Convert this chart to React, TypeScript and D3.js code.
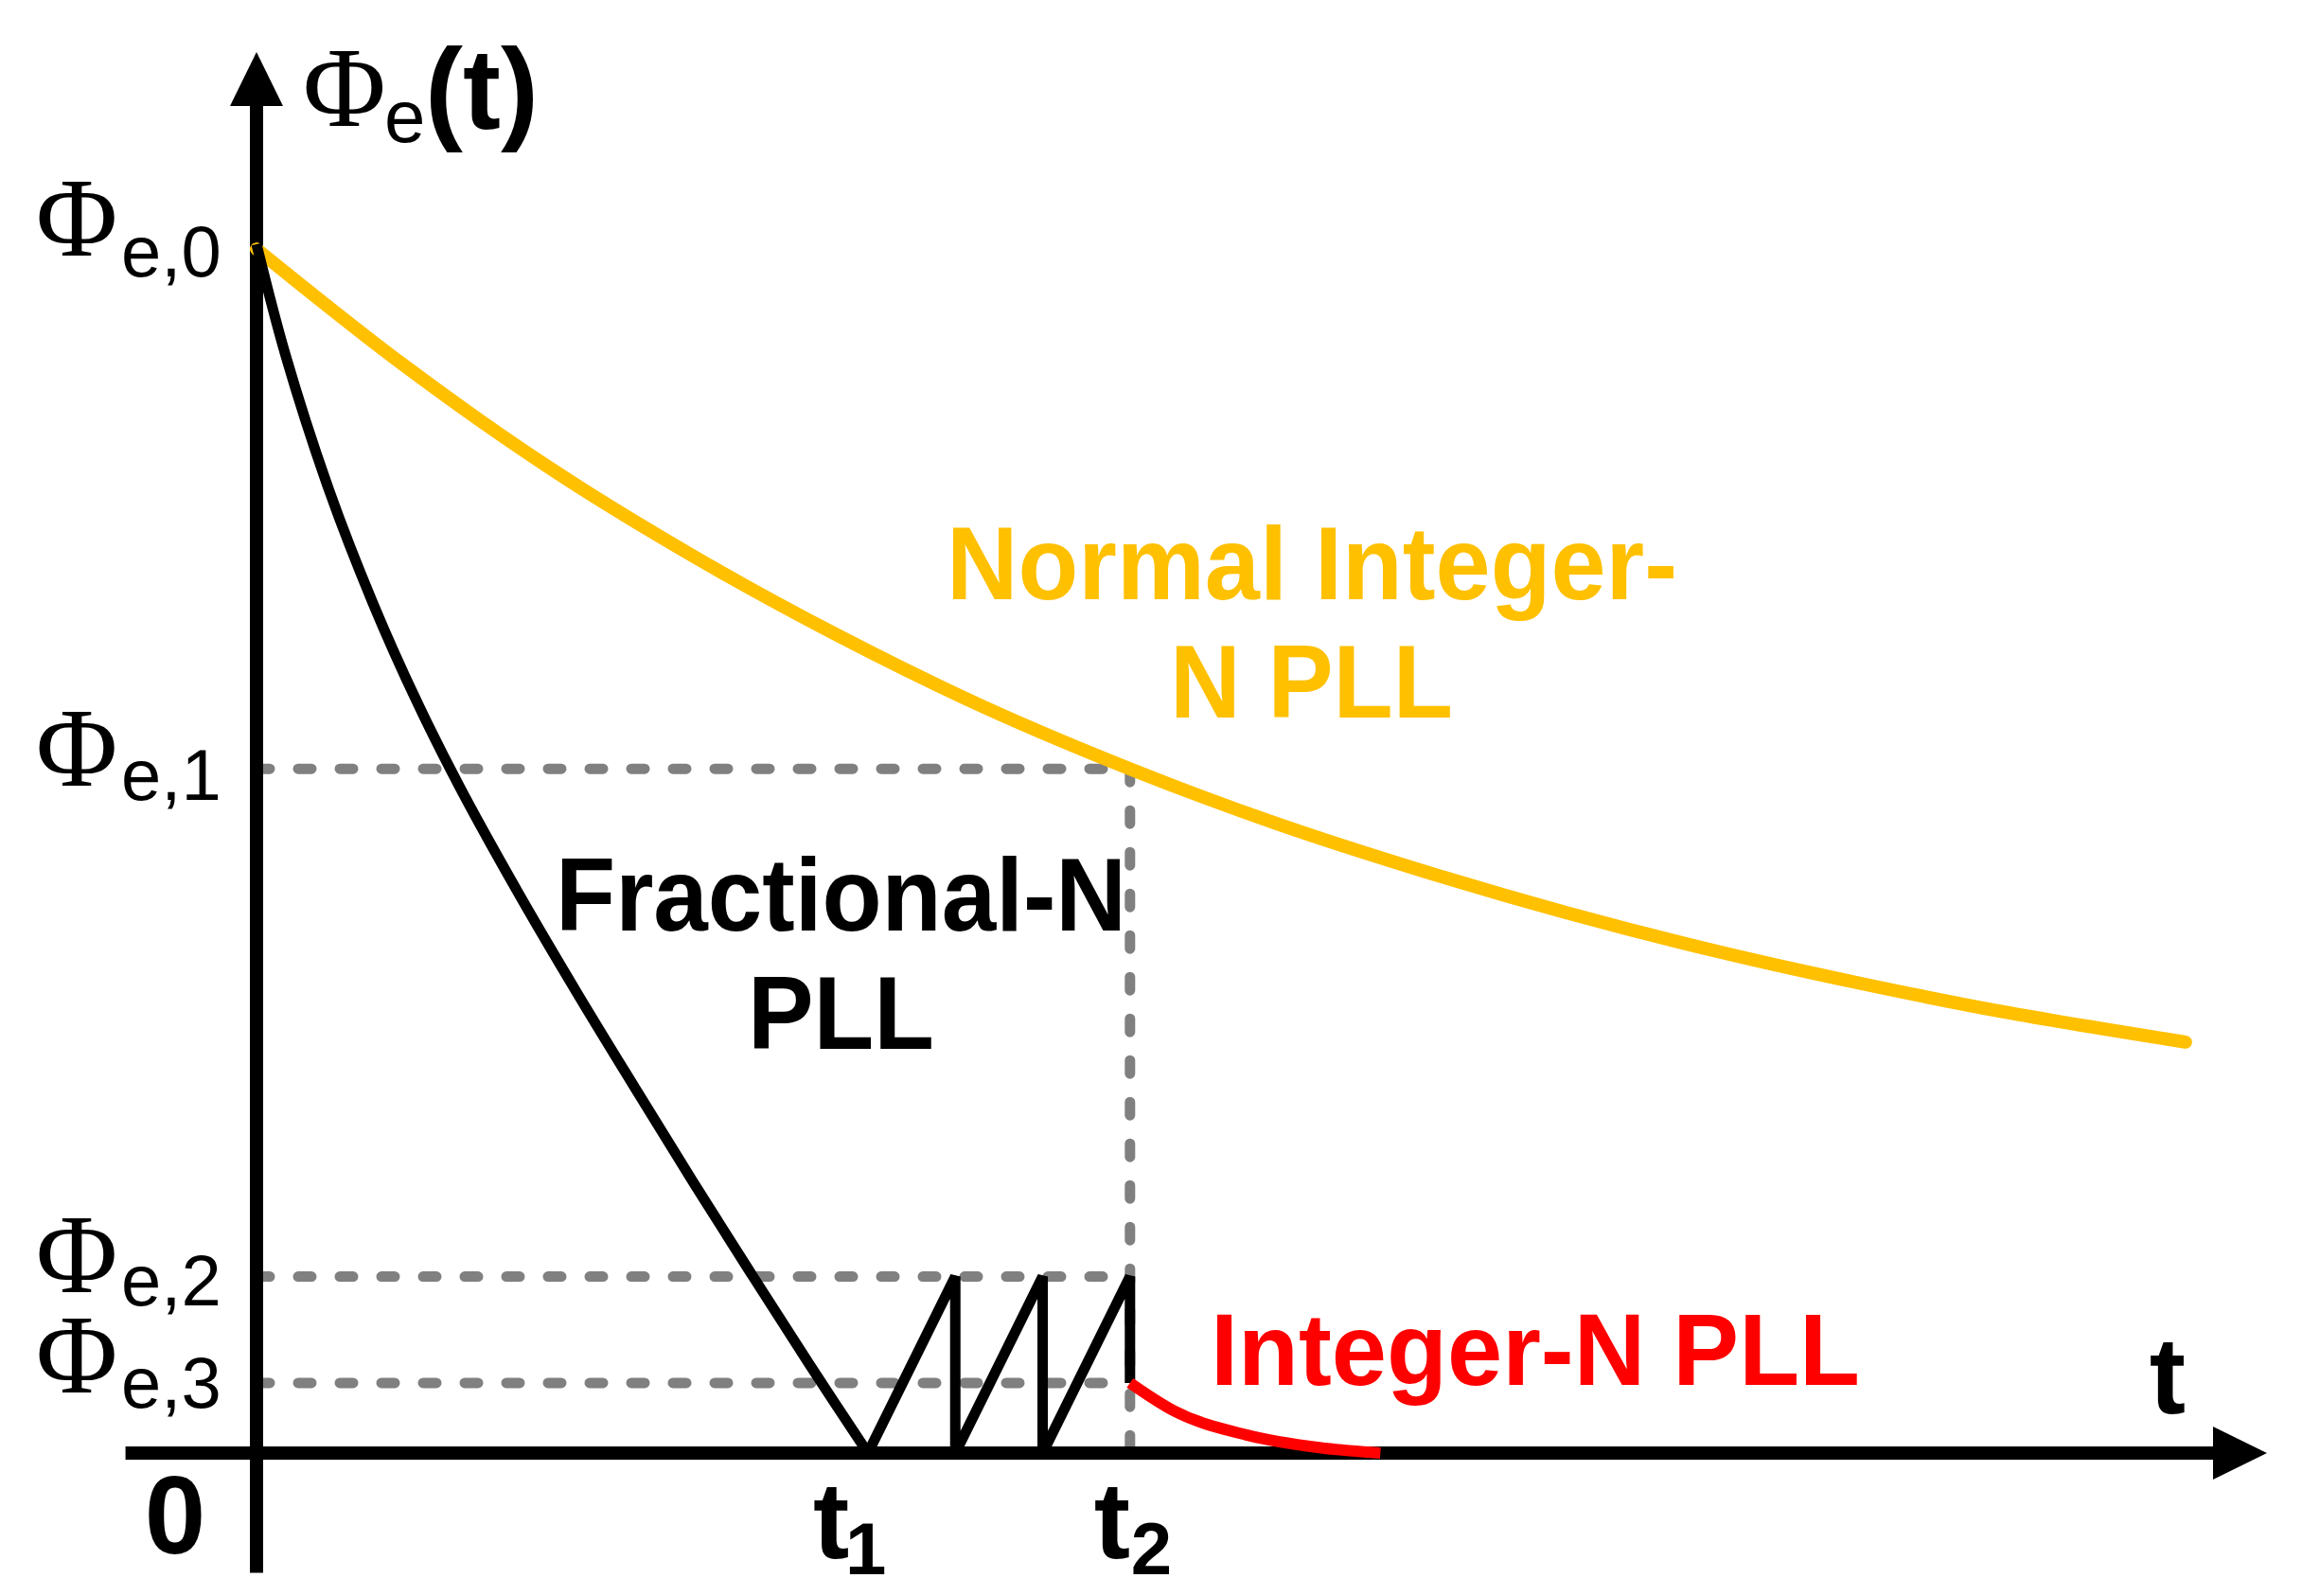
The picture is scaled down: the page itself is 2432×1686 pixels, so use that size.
import React from "react";
import * as d3 from "d3";

// ---- data (time in arbitrary units, phase error in % of Φe,0) ----
const normalIntT = [0, 1, 2, 3, 4, 5, 6, 7, 8, 9, 10, 11, 12, 13.25];
const normalIntPhi = [99.6, 90.1, 81.6, 74.2, 67.6, 61.7, 56.6, 52.1, 48.2, 44.7, 41.6, 38.9, 36.5, 34.0];

const fracT = [0, 0.2, 0.5, 0.8, 1.1, 1.4, 1.8, 2.2, 2.6, 3.0, 3.4, 3.8, 4.2];
const fracPhi = [100, 90.8, 79.6, 70.3, 62.2, 55.0, 46.3, 38.1, 30.2, 22.4, 14.8, 7.3, 0];

const sawT = [4.2, 4.8, 4.8, 5.4, 5.4, 6.0, 6.0];
const sawPhi = [0, 14.6, 0, 14.6, 0, 14.6, 5.8];

const intT = [6.0, 6.3, 6.8, 7.3, 7.72];
const intPhi = [5.8, 3.5, 1.5, 0.45, 0];

const levelNames = ["0", "1", "2", "3"];
const levelValues = [100, 56.6, 14.6, 5.8];
const tickNames = ["1", "2"];
const tickValues = [4.2, 6.0];

const xAxisExtent = [-0.9, 13.81];
const yAxisExtent = [-9.9, 115.9];

const W = 2432;
const H = 1686;

export default function App() {
  const x = d3.scaleLinear().domain([0, 14]).range([271, 271 + 14 * 153.8]);
  const y = d3.scaleLinear().domain([0, 100]).range([1535, 258]);

  const curve = (ts: number[], ps: number[], c: any) =>
    d3
      .line<number>()
      .x((_, i) => x(ts[i]))
      .y((p) => y(p))
      .curve(c)(ps) as string;

  const yellowPath = curve(normalIntT, normalIntPhi, d3.curveCatmullRom.alpha(0.5));
  const blackPath = curve(fracT, fracPhi, d3.curveCatmullRom.alpha(0.5));
  const sawPath = curve(sawT, sawPhi, d3.curveLinear);
  const redPath = curve(intT, intPhi, d3.curveMonotoneX);

  const ax0 = x(0);
  const ay0 = y(0);
  const yTip = y(yAxisExtent[1]);
  const xTip = x(xAxisExtent[1]);
  const headLen = 57;
  const headHalf = 28;

  const t2 = tickValues[1];
  const sans = "'Liberation Sans', Arial, Helvetica, sans-serif";
  const serif = "'Liberation Serif', 'Times New Roman', Times, serif";
  const dot = { stroke: "#808080", strokeWidth: 11, strokeDasharray: "14 30", strokeLinecap: "round" as const };

  const phiDy = [12, 18, 16, 10];
  const subDy = [34, 33, 30, 26];

  return (
    <svg
      width={W}
      height={H}
      viewBox={`0 0 ${W} ${H}`}
      style={{ position: "absolute", left: 0, top: 0, display: "block", background: "#fff" }}
    >
      <rect x={0} y={0} width={W} height={H} fill="#fff" />

      {/* dotted guide lines */}
      {levelValues.slice(1).map((v, i) => (
        <line key={"h" + i} x1={x(0)} x2={x(t2)} y1={y(v)} y2={y(v)} {...dot} />
      ))}
      <line x1={x(t2)} x2={x(t2)} y1={y(levelValues[1])} y2={y(0)} {...dot} />

      {/* axes */}
      <line x1={x(xAxisExtent[0])} x2={xTip - headLen + 2} y1={ay0} y2={ay0} stroke="#000" strokeWidth={14} />
      <line x1={ax0} x2={ax0} y1={y(yAxisExtent[0])} y2={yTip + headLen - 2} stroke="#000" strokeWidth={14} />
      <polygon
        points={`${ax0},${yTip} ${ax0 - headHalf},${yTip + headLen} ${ax0 + headHalf},${yTip + headLen}`}
        fill="#000"
      />
      <polygon
        points={`${xTip},${ay0} ${xTip - headLen},${ay0 - headHalf} ${xTip - headLen},${ay0 + headHalf}`}
        fill="#000"
      />

      {/* curves */}
      <path d={yellowPath} fill="none" stroke="#FFC000" strokeWidth={14} strokeLinecap="round" />
      <path d={blackPath} fill="none" stroke="#000" strokeWidth={11} />
      <path d={sawPath} fill="none" stroke="#000" strokeWidth={11} strokeLinejoin="miter" />
      <path d={redPath} fill="none" stroke="#FF0000" strokeWidth={12} />

      {/* y axis title */}
      <text x={320} y={133} fontFamily={serif} fontSize={120} fill="#000">Φ</text>
      <text x={406} y={150} fontFamily={sans} fontSize={78} fill="#000">e</text>
      <text x={449} y={136} fontFamily={sans} fontSize={120} fontWeight="bold" fill="#000">(t)</text>

      {/* level labels */}
      {levelValues.map((v, i) => (
        <g key={"lv" + i}>
          <text x={38} y={y(v) + phiDy[i]} fontFamily={serif} fontSize={118} fill="#000">Φ</text>
          <text x={128} y={y(v) + subDy[i]} fontFamily={sans} fontSize={76} fill="#000">
            {"e," + levelNames[i]}
          </text>
        </g>
      ))}

      {/* origin & ticks */}
      <text x={185} y={1641} textAnchor="middle" fontFamily={sans} fontSize={116} fontWeight="bold" fill="#000">0</text>
      {tickValues.map((t, i) => (
        <g key={"tk" + i}>
          <text x={x(t) - (i === 0 ? 58 : 38)} y={1646} fontFamily={sans} fontSize={115} fontWeight="bold" fill="#000">t</text>
          <text x={x(t) - (i === 0 ? 24 : -1)} y={1663} fontFamily={sans} fontSize={78} fontWeight="bold" fill="#000">
            {tickNames[i]}
          </text>
        </g>
      ))}
      <text x={2290} y={1493} textAnchor="middle" fontFamily={sans} fontSize={115} fontWeight="bold" fill="#000">t</text>

      {/* series labels */}
      <text x={1000} y={633} fontFamily={sans} fontSize={109} fontWeight="bold" fill="#FFC000" textLength={772} lengthAdjust="spacingAndGlyphs">
        Normal Integer-
      </text>
      <text x={1236} y={758} fontFamily={sans} fontSize={109} fontWeight="bold" fill="#FFC000" textLength={299} lengthAdjust="spacingAndGlyphs">
        N PLL
      </text>
      <text x={587} y={983} fontFamily={sans} fontSize={109} fontWeight="bold" fill="#000" textLength={603} lengthAdjust="spacingAndGlyphs">
        Fractional-N
      </text>
      <text x={790} y={1108} fontFamily={sans} fontSize={109} fontWeight="bold" fill="#000" textLength={197} lengthAdjust="spacingAndGlyphs">
        PLL
      </text>
      <text x={1279} y={1463} fontFamily={sans} fontSize={108} fontWeight="bold" fill="#FF0000" textLength={686} lengthAdjust="spacingAndGlyphs">
        Integer-N PLL
      </text>
    </svg>
  );
}
